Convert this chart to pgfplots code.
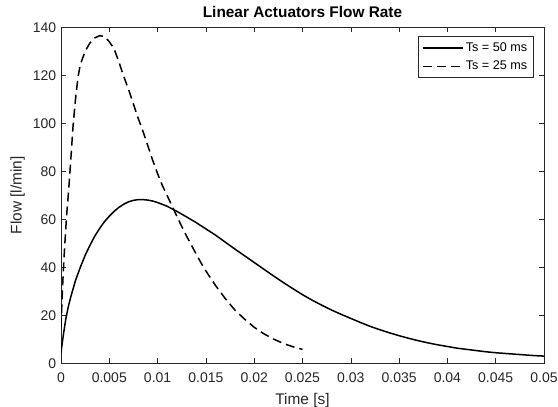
\documentclass[border=0pt]{standalone}
\usepackage{pgfplots}
\pgfplotsset{compat=1.18}
\usepackage{fontspec}
\setmainfont{Liberation Sans}
\definecolor{axgray}{HTML}{262626}
\begin{document}
\begin{tikzpicture}
\useasboundingbox (0,0) rectangle (558bp,407bp);
\begin{axis}[
  at={(61bp,43.7bp)}, anchor=south west,
  scale only axis, width=483bp, height=336bp,
  xmin=0, xmax=0.05, ymin=0, ymax=140,
  scaled x ticks=false, scaled y ticks=false,
  xtick={0,0.005,0.01,0.015,0.02,0.025,0.03,0.035,0.04,0.045,0.05},
  xticklabels={0,0.005,0.01,0.015,0.02,0.025,0.03,0.035,0.04,0.045,0.05},
  ytick={0,20,40,60,80,100,120,140},
  yticklabels={0,20,40,60,80,100,120,140},
  tick align=inside, xtick pos=both, ytick pos=both,
  major tick length=5bp,
  axis line style={axgray, line width=0.6bp},
  every tick/.style={axgray, line width=0.6bp},
  tick label style={font=\fontsize{14bp}{16bp}\selectfont, text=axgray},
  xticklabel style={yshift=-6bp},
  yticklabel style={xshift=-1.3bp},
  title={\textbf{Linear Actuators Flow Rate}},
  title style={at={(axis description cs:0.5,1)}, anchor=south, yshift=0.5bp, font=\fontsize{15.4bp}{18bp}\selectfont, text=black},
  xlabel={Time [s]},
  xlabel style={at={(axis description cs:0.5,-0.079)}, anchor=north, font=\fontsize{15.4bp}{18bp}\selectfont, text=axgray},
  ylabel={Flow [l/min]},
  ylabel style={at={(axis description cs:-0.112,0.5)}, anchor=north, font=\fontsize{15.4bp}{18bp}\selectfont, text=axgray},
  legend style={at={(axis cs:0.0489,136.2)}, anchor=north east, draw=axgray, line width=0.5bp,
    font=\fontsize{12.6bp}{14bp}\selectfont, inner sep=3.5bp, row sep=3.2bp,
    nodes={inner sep=2.5bp}},
  legend cell align=left,
  legend image code/.code={\draw[#1] (0bp,0bp) -- (40bp,0bp);},
]
\addplot[black, line width=1.5bp] coordinates {
(0,4.5) (0.00025,12) (0.0005,18.5) (0.00075,23.5) (0.001,27.5) (0.0015,34.5)
(0.002,40) (0.0025,45) (0.003,49.2) (0.0035,53) (0.004,56.2) (0.0045,59)
(0.005,61.3) (0.0055,63.3) (0.006,65) (0.0065,66.3) (0.007,67.3) (0.0075,67.9)
(0.008,68.2) (0.0085,68.2) (0.009,68) (0.0095,67.6) (0.010,67) (0.011,65.4)
(0.012,63.3) (0.013,61) (0.014,58.6) (0.015,56) (0.016,53.4) (0.017,50.5)
(0.018,47.6) (0.019,44.8) (0.020,42) (0.021,39.2) (0.022,36.4) (0.023,33.7)
(0.024,31.1) (0.025,28.6) (0.026,26.3) (0.027,24.2) (0.028,22.2) (0.029,20.4)
(0.030,18.7) (0.031,17) (0.032,15.4) (0.033,14) (0.034,12.7) (0.035,11.5)
(0.036,10.4) (0.037,9.4) (0.038,8.5) (0.039,7.7) (0.040,7.0) (0.041,6.3)
(0.042,5.8) (0.043,5.3) (0.044,4.8) (0.045,4.4) (0.046,4.1) (0.047,3.8)
(0.048,3.5) (0.049,3.2) (0.050,3.0)
};
\addlegendentry{Ts = 50 ms}
\addplot[black, line width=1.5bp, dash pattern=on 9bp off 5bp] coordinates {
(0,15) (0.0001,26) (0.0002,35) (0.0003,43) (0.0004,50) (0.0005,56.5)
(0.0006,62.5) (0.0008,72.5) (0.001,84) (0.00125,99) (0.0015,110) (0.00175,119)
(0.002,124.5) (0.0025,130) (0.003,133.5) (0.0035,135.6) (0.004,136.5) (0.0045,136.2)
(0.005,134) (0.0055,131) (0.006,125.5) (0.0065,119.5) (0.007,114) (0.0075,108)
(0.008,102) (0.0085,96.5) (0.009,90.5) (0.0095,84.5) (0.010,79) (0.0105,74)
(0.011,69.8) (0.0115,65.5) (0.012,61.2) (0.0125,57) (0.013,53) (0.0135,49.2)
(0.014,45.5) (0.0145,41.8) (0.015,38.5) (0.0155,35.4) (0.016,32.4) (0.017,27)
(0.018,22.2) (0.019,18.4) (0.020,15) (0.021,12.3) (0.022,10.1) (0.023,8.3)
(0.024,6.9) (0.025,5.8)
};
\addlegendentry{Ts = 25 ms}
\end{axis}
\end{tikzpicture}
\end{document}
